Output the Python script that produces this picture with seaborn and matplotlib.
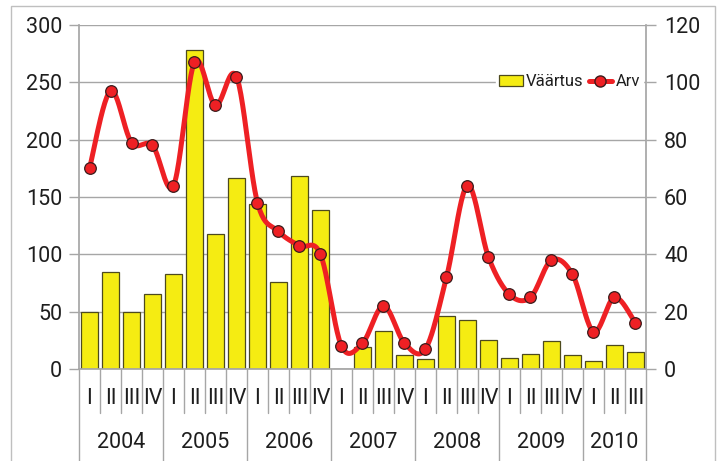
import numpy as np
import pandas as pd
import matplotlib
matplotlib.use('Agg')
import matplotlib.pyplot as plt
import seaborn as sns
from matplotlib.patches import Rectangle, Patch
from matplotlib.lines import Line2D

# Andmed: kvartalid 2004 I kuni 2010 III
years = ['2004', '2005', '2006', '2007', '2008', '2009', '2010']
quarters_in_year = [4, 4, 4, 4, 4, 4, 3]
quarter_names = ['I', 'II', 'III', 'IV']

vaartus = [50, 85, 50, 65, 83, 278, 118, 167, 144, 76, 168, 139,
           0, 19, 33, 12, 9, 46, 43, 25, 10, 13, 24, 12, 7, 21, 15]
arv = [70, 97, 79, 78, 64, 107, 92, 102, 58, 48, 43, 40,
       8, 9, 22, 9, 7, 32, 64, 39, 26, 25, 38, 33, 13, 25, 16]

periods = []
q_labels = []
for y, nq in zip(years, quarters_in_year):
    for q in quarter_names[:nq]:
        periods.append(f'{y} {q}')
        q_labels.append(q)

df = pd.DataFrame({'period': periods, 'vaartus': vaartus, 'arv': arv})
n = len(df)


def catmull_rom(x, y, steps=24):
    # silutud joon nagu Exceli "smoothed line"
    x = np.asarray(x, float)
    y = np.asarray(y, float)
    px = np.concatenate([[x[0]], x, [x[-1]]])
    py = np.concatenate([[y[0]], y, [y[-1]]])
    xs, ys = [], []
    t = np.linspace(0, 1, steps, endpoint=False)
    for i in range(1, len(px) - 2):
        p0, p1, p2, p3 = (np.array([px[j], py[j]]) for j in range(i - 1, i + 3))
        c1 = p1 + (p2 - p0) / 6
        c2 = p2 - (p3 - p1) / 6
        pts = ((1 - t) ** 3)[:, None] * p1 + (3 * (1 - t) ** 2 * t)[:, None] * c1 \
            + (3 * (1 - t) * t ** 2)[:, None] * c2 + (t ** 3)[:, None] * p2
        xs.extend(pts[:, 0])
        ys.extend(pts[:, 1])
    xs.append(x[-1])
    ys.append(y[-1])
    return np.array(xs), np.array(ys)


sns.set_theme(style='white')
plt.rcParams['font.family'] = ['Roboto', 'DejaVu Sans']

gray = '#A6A6A6'
text_col = '#1E1E1E'
yellow = '#F5EC12'
red = '#EE2024'
fs = 15.5

fig = plt.figure(figsize=(7.24, 4.61), dpi=100)
ax = fig.add_axes([79 / 724, 1 - 369 / 461, 567 / 724, 344 / 461])

sns.barplot(data=df, x='period', y='vaartus', color=yellow, saturation=1,
            edgecolor='#4D4A1E', linewidth=0.9, width=0.8, ax=ax)
ax.set_xlim(-0.5, n - 0.5)
ax.set_ylim(0, 300)
ax.set_yticks(range(0, 301, 50))
ax.yaxis.grid(True, color=gray, linewidth=1)
ax.set_axisbelow(True)
ax.set_xlabel('')
ax.set_ylabel('')
ax.tick_params(axis='x', length=0, labelbottom=False)
ax.tick_params(axis='y', length=7, width=1, color=gray, labelsize=fs,
               labelcolor=text_col, pad=5)

ax2 = ax.twinx()
sx, sy = catmull_rom(np.arange(n), df['arv'])
ax2.plot(sx, sy, color=red, lw=3.6, solid_capstyle='round', zorder=3)
sns.scatterplot(x=np.arange(n), y=df['arv'], ax=ax2, s=70, color=red,
                edgecolor='#3B1B1B', linewidth=0.9, zorder=4)
ax2.set_ylim(0, 120)
ax2.set_yticks(range(0, 121, 20))
ax2.set_xlim(-0.5, n - 0.5)
ax2.set_xlabel('')
ax2.set_ylabel('')
ax2.tick_params(axis='y', length=7, width=1, color=gray, labelsize=fs,
                labelcolor=text_col, pad=6)

for a in (ax, ax2):
    for s in a.spines.values():
        s.set_visible(False)
ax.spines['left'].set_visible(True)
ax.spines['left'].set_color(gray)
ax.spines['bottom'].set_visible(True)
ax.spines['bottom'].set_color(gray)
ax2.spines['right'].set_visible(True)
ax2.spines['right'].set_color(gray)

# mitmetasandiline x-telg
tr = ax.get_xaxis_transform()
q_bottom = (369 - 413) / 344
y_bottom = (369 - 462) / 344
for i, q in enumerate(q_labels):
    ax.text(i, (369 - 398) / 344, q, transform=tr, ha='center', va='center',
            fontsize=fs, color=text_col)
start = 0
year_edges = [-0.5]
for y, nq in zip(years, quarters_in_year):
    ax.text(start + (nq - 1) / 2, (369 - 442) / 344, y, transform=tr,
            ha='center', va='center', fontsize=fs, color=text_col)
    start += nq
    year_edges.append(start - 0.5)
for b in np.arange(n + 1) - 0.5:
    bottom = y_bottom if b in year_edges else q_bottom
    ax.plot([b, b], [0, bottom], transform=tr, color=gray, lw=1,
            clip_on=False)

handles = [Patch(facecolor=yellow, edgecolor='#4D4A1E', linewidth=0.9),
           Line2D([0], [0], color=red, lw=3.6, marker='o', markersize=8,
                  markerfacecolor=red, markeredgecolor='#3B1B1B')]
leg = ax2.legend(handles, ['Väärtus', 'Arv'], loc='center right',
                 bbox_to_anchor=(0.995, (369 - 82) / 344), ncol=2,
                 frameon=True, fontsize=12, handlelength=1.4,
                 handletextpad=0.2, columnspacing=0.3, borderpad=0.2,
                 borderaxespad=0)
leg.get_frame().set_facecolor('white')
leg.get_frame().set_edgecolor('white')
leg.get_frame().set_alpha(1)
for t in leg.get_texts():
    t.set_color(text_col)

fig.add_artist(Rectangle((11 / 724, -0.01), 704 / 724, 1 - 6 / 461 + 0.01,
                         transform=fig.transFigure, fill=False,
                         edgecolor='#BFBFBF', lw=1))

fig.savefig('out.png', dpi=100)
